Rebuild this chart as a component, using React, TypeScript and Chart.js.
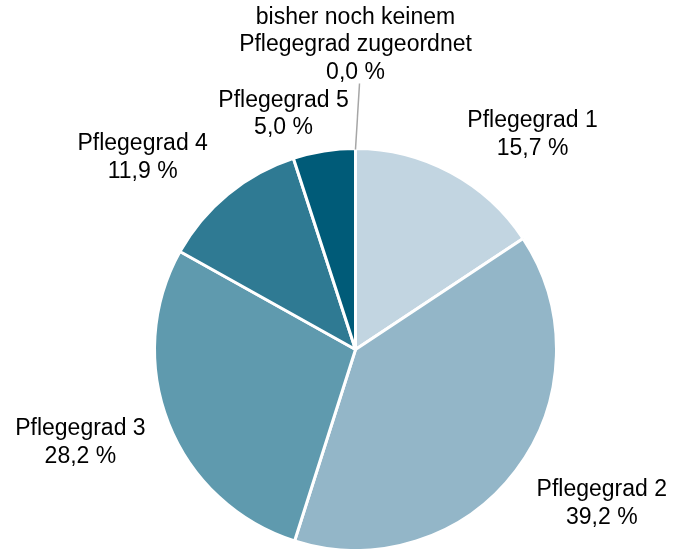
import React, { useEffect, useRef } from "react";
import { Chart, registerables } from "chart.js";

Chart.register(...registerables);

const categories = [
  "Pflegegrad 1",
  "Pflegegrad 2",
  "Pflegegrad 3",
  "Pflegegrad 4",
  "Pflegegrad 5",
  "bisher noch keinem\nPflegegrad zugeordnet",
];
const values = [15.7, 39.2, 28.2, 11.9, 5.0, 0.0];
const valueLabels = ["15,7 %", "39,2 %", "28,2 %", "11,9 %", "5,0 %", "0,0 %"];
const colors = ["#c2d5e1", "#93b6c8", "#5f9aae", "#2f7a93", "#005b78", "#003f55"];

// label placement: angle from top (deg, clockwise) and distance in radius units
const labelAngles = [39.5, 122, 251.3, 312, 343, 0];
const labelDistances = [1.385, 1.445, 1.445, 1.425, 1.225, 1.515];

const labelPlugin = {
  id: "outerLabels",
  afterDatasetsDraw(chart: any) {
    const meta = chart.getDatasetMeta(0);
    const arc0 = meta.data[0];
    if (!arc0) return;
    const cx = arc0.x;
    const cy = arc0.y;
    const r = arc0.outerRadius;
    const ctx = chart.ctx;
    ctx.save();
    ctx.font = "23px 'Liberation Sans', Arial, sans-serif";
    ctx.fillStyle = "#000000";
    ctx.textAlign = "center";
    ctx.textBaseline = "middle";
    const lh = 27.5;
    categories.forEach((cat, i) => {
      const a = (labelAngles[i] * Math.PI) / 180;
      const d = labelDistances[i] * r;
      const x = cx + d * Math.sin(a);
      const y = cy - d * Math.cos(a);
      const lines = [...cat.split("\n"), valueLabels[i]];
      const startY = y - ((lines.length - 1) * lh) / 2;
      lines.forEach((ln, k) => ctx.fillText(ln, x, startY + k * lh));
      if (values[i] === 0) {
        const bottomY = startY + (lines.length - 1) * lh + 11;
        ctx.strokeStyle = "#a6a6a6";
        ctx.lineWidth = 1.5;
        ctx.beginPath();
        ctx.moveTo(cx, cy - r + 1);
        ctx.lineTo(x + 4, bottomY);
        ctx.stroke();
      }
    });
    ctx.restore();
  },
};

export default function App() {
  const ref = useRef<HTMLCanvasElement>(null);
  useEffect(() => {
    if (!ref.current) return;
    const chart = new Chart(ref.current, {
      type: "pie",
      data: {
        labels: categories,
        datasets: [
          {
            data: values,
            backgroundColor: colors,
            borderColor: "#ffffff",
            borderWidth: 3,
            hoverOffset: 0,
          },
        ],
      },
      options: {
        animation: false,
        responsive: false,
        maintainAspectRatio: false,
        layout: { padding: { left: 153, right: 119, top: 147, bottom: 0 } },
        plugins: {
          legend: { display: false },
          tooltip: { enabled: false },
        },
      },
      plugins: [labelPlugin],
    });
    return () => chart.destroy();
  }, []);
  return (
    <div style={{ position: "fixed", left: 0, top: 0, width: 677, height: 549, overflow: "hidden", background: "#fff" }}>
      <canvas ref={ref} width={677} height={552} style={{ display: "block" }} />
    </div>
  );
}
